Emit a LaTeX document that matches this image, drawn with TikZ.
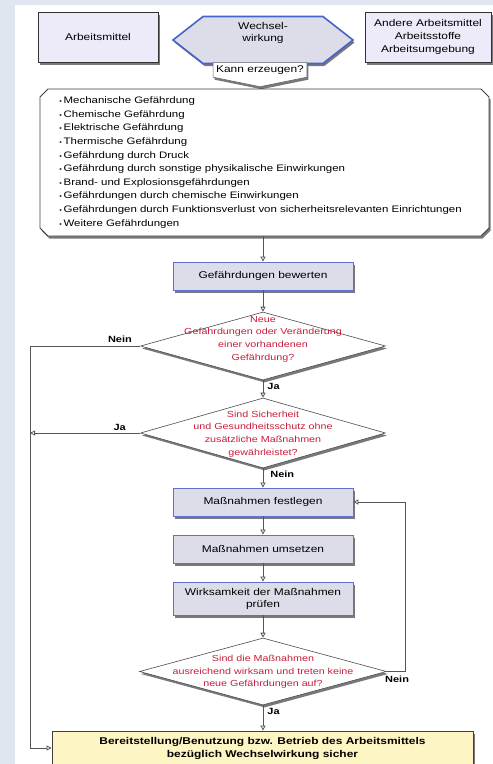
\documentclass[tikz,border=0pt]{standalone}
\usepackage{fontspec}
\setmainfont{Liberation Sans}[FakeStretch=1.22]
\usetikzlibrary{positioning,shapes.geometric,shapes.symbols,shapes.misc,shadows,arrows.meta}

\definecolor{bgblue}{RGB}{223,230,240}
\definecolor{topfill}{RGB}{237,234,250}
\definecolor{procfill}{RGB}{221,221,234}
\definecolor{procline}{RGB}{95,112,205}
\definecolor{hexline}{RGB}{70,100,200}
\definecolor{askred}{RGB}{200,30,60}
\definecolor{endfill}{RGB}{253,245,196}
\definecolor{linegray}{RGB}{85,85,85}
\definecolor{shadowgray}{RGB}{120,120,125}

\newcommand{\pkt}{{\fontsize{6}{6}\selectfont\textbullet}\,}

\tikzset{
  schatten/.style={general shadow={fill=shadowgray,shadow xshift=1.5pt,shadow yshift=-2.5pt}},
  topbox/.style={rectangle,draw=black!80,fill=topfill,line width=0.8pt,schatten,
    minimum width=120pt,minimum height=50pt,align=center},
  procbox/.style={rectangle,draw=procline,fill=procfill,line width=0.8pt,schatten,
    minimum width=180pt,minimum height=28pt,align=center},
  decision/.style={diamond,draw=black!70,fill=white,line width=0.6pt,schatten,inner sep=0pt},
  asktext/.style={text=askred,align=center,font=\fontsize{8.8}{12.7}\selectfont},
  flow/.style={draw=linegray,line width=0.8pt,-{Triangle[open,length=5pt,width=5pt]}},
  answer/.style={font=\bfseries\fontsize{9}{10}\selectfont,inner sep=1pt},
}

\begin{document}
\begin{tikzpicture}[x=1pt,y=-1pt,font=\fontsize{9.8}{11.8}\selectfont]
  \fill[bgblue] (0,0) rectangle (493,764);
  \fill[white] (15,5) rectangle (493,764);
  \useasboundingbox (0,0) rectangle (493,764);

  % obere Zeile
  \node[topbox] (am) at (98,37) {Arbeitsmittel};
  \node[topbox,minimum width=126pt,font=\fontsize{9.8}{13}\selectfont] (ae) at (428,37)
    {Andere Arbeitsmittel\\Arbeitsstoffe\\Arbeitsumgebung};
  \node[signal,signal to=east and west,signal pointer angle=76,draw=hexline,line width=1.6pt,
    fill=procfill,minimum width=180pt,minimum height=47pt,align=center,text depth=16pt,schatten] (ww) at (263,40)
    {Wechsel-\\wirkung};
  \node[signal,signal to=south,signal pointer angle=157,draw=black!60,fill=white,line width=0.6pt,
    minimum width=84pt,inner sep=3pt,anchor=north,schatten] (kann) at (260,62) {Kann erzeugen?};

  % Gefaehrdungsliste
  \node[chamfered rectangle,chamfered rectangle xsep=4pt,chamfered rectangle ysep=4pt,
    draw=black!75,line width=0.9pt,fill=white,schatten,minimum width=449pt,minimum height=147pt,
    text width=410pt,align=left,font=\fontsize{9.4}{13.6}\selectfont] (gef) at (264.5,162.5)
    {\pkt Mechanische Gefährdung\\
     \pkt Chemische Gefährdung\\
     \pkt Elektrische Gefährdung\\
     \pkt Thermische Gefährdung\\
     \pkt Gefährdung durch Druck\\
     \pkt Gefährdung durch sonstige physikalische Einwirkungen\\
     \pkt Brand- und Explosionsgefährdungen\\
     \pkt Gefährdungen durch chemische Einwirkungen\\
     \pkt Gefährdungen durch Funktionsverlust von sicherheitsrelevanten Einrichtungen\\
     \pkt Weitere Gefährdungen};

  % Ablauf
  \node[procbox] (bew) at (263,276) {Gefährdungen bewerten};
  \node[decision,minimum width=245pt,minimum height=68pt] (d1) at (263,346) {};
  \node[asktext] (d1t) at (263,339) {Neue\\Gefährdungen oder Veränderung\\einer vorhandenen\\Gefährdung?};
  \node[decision,minimum width=245pt,minimum height=70pt] (d2) at (263,433) {};
  \node[asktext] (d2t) at (263,434) {Sind Sicherheit\\und Gesundheitsschutz ohne\\zusätzliche Maßnahmen\\gewährleistet?};
  \node[procbox] (fest) at (263,502) {Maßnahmen festlegen};
  \node[procbox] (ums) at (263,549) {Maßnahmen umsetzen};
  \node[procbox,minimum height=33pt,font=\fontsize{9.8}{12}\selectfont] (wirk) at (263,598.5)
    {Wirksamkeit der Maßnahmen\\prüfen};
  \node[decision,minimum width=247pt,minimum height=67pt] (d3) at (263,671.5) {};
  \node[asktext] (d3t) at (263,672) {Sind die Maßnahmen\\ausreichend wirksam und treten keine\\neue Gefährdungen auf?};
  \node[rectangle,draw=black!75,fill=endfill,line width=0.8pt,schatten,minimum width=421pt,
    minimum height=34pt,align=center,font=\bfseries\fontsize{9.8}{13}\selectfont] (ende) at (262.5,748)
    {Bereitstellung/Benutzung bzw. Betrieb des Arbeitsmittels\\bezüglich Wechselwirkung sicher};

  \coordinate (links) at (30,0);
  \coordinate (rechts) at (405,0);

  % Verbindungen
  \draw[flow] (bew.north |- gef.south) -- (bew.north);
  \draw[flow] (bew) -- (d1);
  \draw[flow] (d1.south) node[answer,below right=2pt and 3pt] {Ja} -- (d2.north);
  \draw[flow] (d2.south) node[answer,below right=1pt and 6pt] {Nein} -- (fest.north);
  \draw[flow] (fest) -- (ums);
  \draw[flow] (ums) -- (wirk);
  \draw[flow] (wirk) -- (d3);
  \draw[flow] (d3.south) node[answer,below right=2pt and 3pt] {Ja} -- (ende.north -| d3.south);
  \draw[flow] (d1.west) node[answer,above left=2pt and 7pt] {Nein} -- (links |- d1.west)
    -- (links |- ende.west) -- (ende.west);
  \draw[flow] (d2.west) node[answer,above left=1pt and 13pt] {Ja} -- (links |- d2.west);
  \draw[flow] (d3.east) node[answer,below right=3pt and -3pt] {Nein} -- (rechts |- d3.east)
    -- (rechts |- fest.east) -- (fest.east);
\end{tikzpicture}
\end{document}
